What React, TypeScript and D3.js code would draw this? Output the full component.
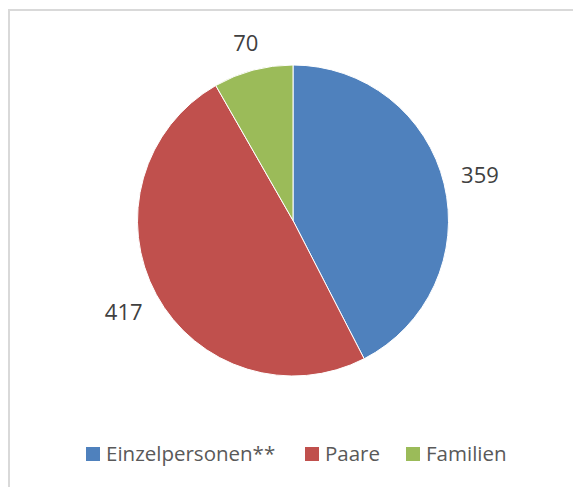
import React, { useEffect, useRef } from "react";
import * as d3 from "d3";

const categories = ["Einzelpersonen**", "Paare", "Familien"];
const values = [359, 417, 70];
const colors = ["#4f81bd", "#c0504d", "#9bbb59"];

const W = 573;
const H = 487;

export default function App() {
  const ref = useRef<SVGSVGElement>(null);

  useEffect(() => {
    const svg = d3.select(ref.current);
    svg.selectAll("*").remove();

    // chart frame (only top and left edge are visible)
    svg
      .append("rect")
      .attr("x", 9)
      .attr("y", 10)
      .attr("width", W + 20)
      .attr("height", H + 20)
      .attr("fill", "#fff")
      .attr("stroke", "#d9d9d9")
      .attr("stroke-width", 2);

    const cx = 293;
    const cy = 220.5;
    const r = 155.5;

    const pie = d3
      .pie<number>()
      .sort(null)
      .value((d) => d);
    const arcs = pie(values);
    const arc = d3.arc<d3.PieArcDatum<number>>().innerRadius(0).outerRadius(r);

    const g = svg.append("g").attr("transform", `translate(${cx},${cy})`);

    g.selectAll("path")
      .data(arcs)
      .enter()
      .append("path")
      .attr("d", arc)
      .attr("fill", (d, i) => colors[i])
      .attr("stroke", "#fff")
      .attr("stroke-width", 1);

    // outside-end labels: push the text box out so it clears the rim
    g.selectAll("text.lbl")
      .data(arcs)
      .enter()
      .append("text")
      .attr("class", "lbl")
      .attr("text-anchor", "middle")
      .attr("dy", "0.36em")
      .attr("font-family", "'Open Sans', sans-serif")
      .attr("font-size", 22)
      .attr("fill", "#404040")
      .text((d) => d.data)
      .each(function (d) {
        const bb = (this as SVGTextElement).getBBox();
        const a = (d.startAngle + d.endAngle) / 2;
        const s = Math.sin(a);
        const c = Math.cos(a);
        const dist = r + 16.5 + (bb.width / 2) * Math.abs(s) + 8.5 * Math.abs(c);
        d3.select(this).attr("transform", `translate(${s * dist},${-c * dist})`);
      });

    // legend
    const legendX = [86, 305, 406];
    const legend = svg
      .append("g")
      .selectAll("g")
      .data(categories)
      .enter()
      .append("g")
      .attr("transform", (d, i) => `translate(${legendX[i]},447)`);

    legend
      .append("rect")
      .attr("width", 14)
      .attr("height", 14)
      .attr("fill", (d, i) => colors[i]);

    legend
      .append("text")
      .attr("x", 20)
      .attr("y", 14)
      .attr("font-family", "'Open Sans', sans-serif")
      .attr("font-size", 20.5)
      .attr("fill", "#595959")
      .text((d) => d);
  }, []);

  return (
    <svg
      ref={ref}
      width={W}
      height={H}
      style={{ position: "absolute", left: 0, top: 0, background: "#fff" }}
    />
  );
}
